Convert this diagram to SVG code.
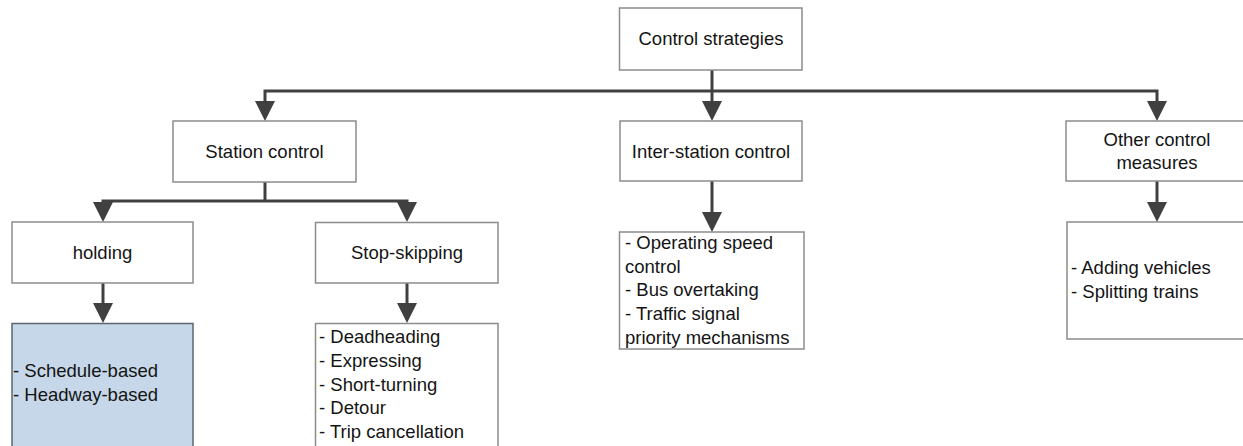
<svg xmlns="http://www.w3.org/2000/svg" width="1243" height="446" viewBox="0 0 1243 446">
  <style>
    .box { fill: #ffffff; stroke: #8c8c8c; stroke-width: 1.5; }
    .box-hl { fill: #c5d7e8; stroke: #5e6670; stroke-width: 1.5; }
    .lbl { font-family: "Liberation Sans", Arial, sans-serif; font-size: 18.5px; fill: #141414; }
    .mid { text-anchor: middle; }
    .conn { fill: none; stroke: #404040; stroke-width: 3; stroke-linejoin: miter; }
  </style>
  <defs>
    <marker id="arrow" markerUnits="userSpaceOnUse" markerWidth="20" markerHeight="20" viewBox="0 0 20 20" refX="2" refY="10" orient="auto-start-reverse">
      <path d="M0,0 L20,10 L0,20 z" fill="#404040"/>
    </marker>
  </defs>

  <rect width="1243" height="446" fill="#ffffff"/>

  <!-- connectors -->
  <g id="connectors">
    <path class="conn" d="M712,70 V103" marker-end="url(#arrow)"/>
    <path class="conn" d="M265,103 V91 H1157 V103" marker-start="url(#arrow)" marker-end="url(#arrow)"/>
    <path class="conn" d="M265,182 V201"/>
    <path class="conn" d="M103,204 V201 H407 V204" marker-start="url(#arrow)" marker-end="url(#arrow)"/>
    <path class="conn" d="M103,283 V305" marker-end="url(#arrow)"/>
    <path class="conn" d="M407,283 V305" marker-end="url(#arrow)"/>
    <path class="conn" d="M712,181 V214" marker-end="url(#arrow)"/>
    <path class="conn" d="M1157,181 V204" marker-end="url(#arrow)"/>
  </g>

  <!-- root -->
  <g id="control-strategies">
    <rect class="box" x="619.5" y="8" width="182.5" height="62"/>
    <text class="lbl mid" x="711" y="45">Control strategies</text>
  </g>

  <!-- level 1 -->
  <g id="station-control">
    <rect class="box" x="173" y="121" width="183" height="61"/>
    <text class="lbl mid" x="264.5" y="158">Station control</text>
  </g>
  <g id="inter-station-control">
    <rect class="box" x="620" y="121" width="182" height="60"/>
    <text class="lbl mid" x="711" y="158">Inter-station control</text>
  </g>
  <g id="other-control-measures">
    <rect class="box" x="1066" y="121" width="190" height="60"/>
    <text class="lbl mid" x="1157" y="146">Other control</text>
    <text class="lbl mid" x="1157" y="169">measures</text>
  </g>

  <!-- level 2 -->
  <g id="holding">
    <rect class="box" x="12" y="222" width="181" height="61"/>
    <text class="lbl mid" x="102.5" y="259">holding</text>
  </g>
  <g id="stop-skipping">
    <rect class="box" x="315.5" y="222.5" width="182.5" height="60.5"/>
    <text class="lbl mid" x="407" y="259">Stop-skipping</text>
  </g>

  <!-- detail lists -->
  <g id="holding-types">
    <rect class="box-hl" x="12" y="323.5" width="181" height="125"/>
    <text class="lbl" x="13" y="377">- Schedule-based</text>
    <text class="lbl" x="13" y="401">- Headway-based</text>
  </g>
  <g id="stop-skipping-types">
    <rect class="box" x="315.5" y="323.5" width="182.5" height="124"/>
    <text class="lbl" x="319" y="343">- Deadheading</text>
    <text class="lbl" x="319" y="366.5">- Expressing</text>
    <text class="lbl" x="319" y="390.5">- Short-turning</text>
    <text class="lbl" x="319" y="414">- Detour</text>
    <text class="lbl" x="319" y="438">- Trip cancellation</text>
  </g>
  <g id="inter-station-types">
    <rect class="box" x="619.5" y="232" width="184.5" height="117"/>
    <text class="lbl" x="625" y="249">- Operating speed</text>
    <text class="lbl" x="625" y="272.5">control</text>
    <text class="lbl" x="625" y="296">- Bus overtaking</text>
    <text class="lbl" x="625" y="320">- Traffic signal</text>
    <text class="lbl" x="625" y="343.5">priority mechanisms</text>
  </g>
  <g id="other-measures-types">
    <rect class="box" x="1067" y="222" width="190" height="117"/>
    <text class="lbl" x="1071" y="274">- Adding vehicles</text>
    <text class="lbl" x="1071" y="298">- Splitting trains</text>
  </g>
</svg>
